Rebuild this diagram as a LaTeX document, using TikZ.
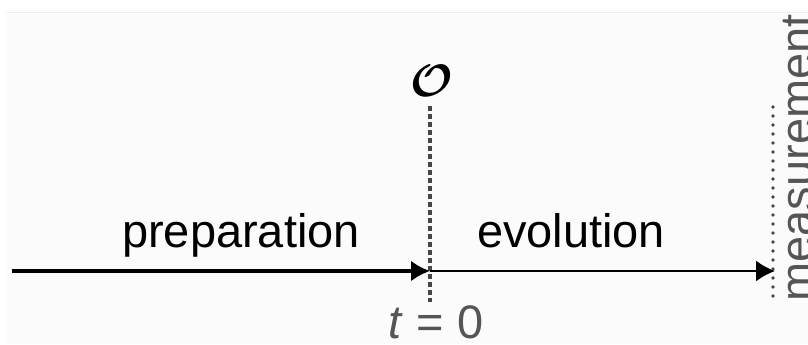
\documentclass[tikz,border=0pt]{standalone}
\usepackage{bm}
\usepackage{fontspec}
\setmainfont{Liberation Sans}
\usetikzlibrary{arrows.meta}
\definecolor{textgray}{RGB}{85,85,85}
\definecolor{dotgray}{RGB}{70,70,70}

\begin{document}
\begin{tikzpicture}[x=0.025cm,y=-0.025cm,font=\fontsize{33.4}{40}\selectfont]
  \useasboundingbox (0,0) rectangle (808,344);
  \fill[gray!3] (6,12) rectangle (808,344);
  \draw[gray!15,line width=0.6pt] (6,12) -- (808,12);
  \coordinate (start) at (12,271);
  \coordinate (zero) at (430,271);
  \coordinate (stop) at (775,271);
  \node[inner sep=1pt,font=\Huge,scale=1.3] (obs) at (432,81) {$\bm{\mathcal{O}}$};
  \node[textgray,anchor=base,inner sep=1pt] (tzero) at (436,338) {\textit{t} = 0};
  \node[textgray,rotate=90,anchor=base] (meas) at (813,158) {measurement};
  \draw[dotgray,line width=2.2pt,dash pattern=on 3.5pt off 2.2pt,shorten <=5pt,shorten >=1pt] (zero |- obs.south) -- (zero |- tzero.north);
  \draw[dotgray,line width=2.8pt,line cap=round,dash pattern=on 0pt off 6.4pt] (773,107) -- (773,302);
  \draw[line width=3pt,-{Latex[length=13.5pt,width=15pt]}] (start) -- (zero);
  \draw[line width=1.6pt,-{Latex[length=13.5pt,width=15pt]}] (zero) -- (stop);
  \node[anchor=base] (prep) at (241,247) {preparation};
  \node[anchor=base] (evol) at (571,247) {evolution};
\end{tikzpicture}
\end{document}
